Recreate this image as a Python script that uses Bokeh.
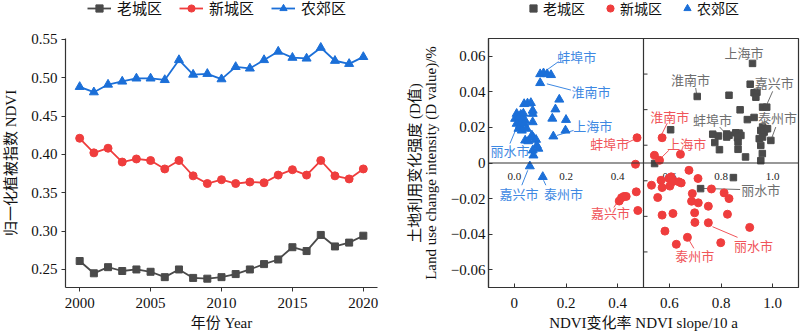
from bokeh.plotting import figure
from bokeh.layouts import row, column
from bokeh.models import (Range1d, Legend, LegendItem, Title, FixedTicker, Span,
                          CustomJSTickFormatter)
from bokeh.embed import file_html
from bokeh.resources import INLINE
from bokeh.core.properties import value

# ---------------- data: left panel ----------------
years = list(range(2000, 2021))
ndvi_old = [0.261, 0.245, 0.253, 0.248, 0.250, 0.247, 0.240, 0.250, 0.239, 0.238, 0.240,
            0.244, 0.250, 0.257, 0.263, 0.279, 0.274, 0.295, 0.280, 0.285, 0.294]
ndvi_new = [0.421, 0.402, 0.408, 0.390, 0.394, 0.392, 0.381, 0.392, 0.372, 0.362, 0.367,
            0.362, 0.364, 0.363, 0.373, 0.380, 0.373, 0.392, 0.372, 0.368, 0.381]
ndvi_sub = [0.488, 0.481, 0.491, 0.495, 0.499, 0.499, 0.497, 0.523, 0.504, 0.505, 0.498,
            0.514, 0.512, 0.523, 0.534, 0.526, 0.525, 0.539, 0.522, 0.518, 0.527]
series_names = ["老城区", "新城区", "农郊区"]
left_yticks = [0.25, 0.30, 0.35, 0.40, 0.45, 0.50, 0.55]
left_xticks = [2000, 2005, 2010, 2015, 2020]

# ---------------- data: right panel ----------------
old_x = [0.922, 0.913, 0.928, 0.939, 0.935, 0.708, 0.831, 0.961, 0.977, 0.874, 0.902, 0.928,
         0.961, 0.974, 0.954, 0.967, 0.980, 0.993, 0.948, 0.961, 0.954, 0.768, 0.790, 0.822,
         0.831, 0.857, 0.870, 0.877, 0.822, 0.864, 0.776, 0.794, 0.866, 0.866, 0.895, 0.960,
         0.954, 0.605, 0.543, 0.848, 0.721]
old_y = [0.0560, 0.0443, 0.0395, 0.0398, 0.0370, 0.0374, 0.0381, 0.0314, 0.0314, 0.0299, 0.0244, 0.0256,
         0.0202, 0.0193, 0.0183, 0.0174, 0.0193, 0.0127, 0.0137, 0.0146, 0.0099, 0.0162, 0.0152, 0.0163,
         0.0156, 0.0170, 0.0168, 0.0155, 0.0146, 0.0142, 0.0115, 0.0075, 0.0118, 0.0077, 0.0034, 0.0053,
         0.0013, 0.0187, -0.0003, -0.0082, -0.0144]

new_x = [0.475, 0.469, 0.472, 0.478, 0.406, 0.415, 0.424, 0.433, 0.572, 0.5425, 0.562, 0.643,
         0.676, 0.531, 0.568, 0.572, 0.598, 0.607, 0.611, 0.602, 0.617, 0.637, 0.646, 0.711,
         0.763, 0.689, 0.812, 0.831, 0.555, 0.686, 0.712, 0.751, 0.572, 0.614, 0.698, 0.825,
         0.699, 0.751, 0.911, 0.583, 0.670, 0.627, 0.799]
new_y = [0.0142, -0.0007, -0.0162, -0.0267, -0.0214, -0.0195, -0.0188, -0.0188, 0.0142, 0.0043, 0.0015, 0.0049,
         -0.0041, -0.0125, -0.0097, -0.0138, -0.0087, -0.0078, -0.0106, -0.0130, -0.0101, -0.0106, -0.0112, -0.0087,
         -0.0146, -0.0172, -0.0168, -0.0200, -0.0194, -0.0215, -0.0224, -0.0243, -0.0293, -0.0284, -0.0280, -0.0288,
         -0.0334, -0.0336, -0.0362, -0.0383, -0.0418, -0.0457, -0.0448]

sub_x = [0.100, 0.113, 0.127, 0.142, 0.100, 0.174, 0.159, 0.147, 0.200, 0.198, 0.151, 0.038,
         0.051, 0.064, 0.071, 0.071, 0.009, 0.025, 0.035, 0.003, 0.016, 0.029, 0.042, 0.071,
         0.009, 0.022, 0.038, 0.016, 0.029, 0.048, 0.042, 0.054, 0.068, 0.074, 0.084, 0.087,
         0.093, 0.071, 0.074, 0.060, 0.110]
sub_y = [0.0500, 0.0505, 0.0500, 0.0495, 0.0450, 0.0357, 0.0302, 0.0250, 0.0243, 0.0183, 0.0150, 0.0332,
         0.0335, 0.0338, 0.0295, 0.0277, 0.0277, 0.0272, 0.0278, 0.0249, 0.0254, 0.0243, 0.0238, 0.0230,
         0.0221, 0.0211, 0.0221, 0.0193, 0.0183, 0.0193, 0.0127, 0.0123, 0.0155, 0.0142, 0.0131, 0.0099,
         0.0081, 0.0071, 0.0043, -0.0018, -0.0078]

right_xticks = [0.0, 0.2, 0.4, 0.6, 0.8, 1.0]
right_yticks = [-0.06, -0.04, -0.02, 0.0, 0.02, 0.04, 0.06]
inner_xticks = [0.0, 0.2, 0.4, 0.6, 0.8, 1.0]
inner_xlabels = ["0.0", "0.2", "0.4", "0.6", "0.8", "1.0"]
inner_yticks = [-0.05, -0.03, -0.01, 0.01, 0.03, 0.05]

# city annotations: label text, label position, leader line ends
sub_ann_text = ["蚌埠市", "淮南市", "上海市", "丽水市", "嘉兴市", "泰州市"]
sub_ann_x = [0.242, 0.297, 0.304, -0.017, 0.018, 0.190]
sub_ann_y = [0.0594, 0.0398, 0.0206, 0.0062, -0.0175, -0.0175]
sub_lx0 = [0.171, 0.219, 0.229, -0.017, 0.029, 0.122]
sub_ly0 = [0.0570, 0.0410, 0.0183, 0.0109, -0.0125, -0.0125]
sub_lx1 = [0.123, 0.126, 0.165, 0.007, 0.052, 0.113]
sub_ly1 = [0.0520, 0.0445, 0.0155, 0.0193, -0.0041, -0.0097]

new_ann_text = ["蚌埠市", "淮南市", "上海市", "嘉兴市", "泰州市", "丽水市"]
new_ann_x = [0.369, 0.602, 0.667, 0.372, 0.698, 0.926]
new_ann_y = [0.0105, 0.0258, 0.0105, -0.0284, -0.0523, -0.0467]
new_lx0 = [0.430, 0.592, 0.598, 0.385, 0.695, 0.864]
new_ly0 = [0.0109, 0.0224, 0.0071, -0.0250, -0.0480, -0.0418]
new_lx1 = [0.462, 0.572, 0.572, 0.400, 0.676, 0.767]
new_ly1 = [0.0131, 0.0165, 0.0034, -0.0218, -0.0433, -0.0358]

old_ann_text = ["上海市", "淮南市", "嘉兴市", "泰州市", "蚌埠市", "丽水市"]
old_ann_x = [0.889, 0.682, 1.006, 1.019, 0.767, 0.954]
old_ann_y = [0.0613, 0.0463, 0.0445, 0.0249, 0.0239, -0.0157]
old_lx0 = [0.889, 0.702, 1.000, 1.012, 0.795, 0.874]
old_ly0 = [0.0613, 0.0422, 0.0403, 0.0202, 0.0202, -0.0149]
old_lx1 = [0.889, 0.706, 0.974, 0.993, 0.809, 0.728]
old_ly1 = [0.0613, 0.0383, 0.0318, 0.0127, 0.0180, -0.0143]

# ---------------- styles ----------------
FONT = "'Liberation Serif', 'Times New Roman', 'Noto Sans CJK SC', serif"
GRAY = "#4a4a4a"
RED = "#ef3d3d"
BLUE = "#1b6fd8"
GRAY_T = "#6e6e6e"
RED_T = "#f0555a"
BLUE_T = "#3d88e2"
AX = "#333333"
LEG_H = 18


def style_axes(p, tick_in, tick_out):
    for ax in (p.xaxis[0], p.yaxis[0]):
        ax.axis_line_color = AX
        ax.axis_line_width = 1.2
        ax.major_tick_line_color = AX
        ax.major_tick_in = tick_in
        ax.major_tick_out = tick_out
        ax.minor_tick_line_color = None
        ax.major_label_text_font = FONT
        ax.major_label_text_font_size = "15px"
        ax.major_label_text_color = "#111111"
        ax.axis_label_text_font = FONT
        ax.axis_label_text_font_size = "15px"
        ax.axis_label_text_font_style = "normal"
        ax.axis_label_text_color = "#111111"
    p.grid.visible = False


def legend_strip():
    # a thin strip above each panel that only carries the legend; its view range
    # lies away from the data so the swatch renderers draw nothing in it
    f = figure(width=400, height=LEG_H, output_backend="svg", toolbar_location=None,
               x_range=Range1d(-3, -2), y_range=Range1d(-3, -2), min_border=0,
               title_location=None)
    f.xaxis.visible = False
    f.yaxis.visible = False
    f.grid.visible = False
    f.outline_line_color = None
    return f


# ---------------- left panel ----------------
p1 = figure(width=400, height=333 - LEG_H, output_backend="svg", toolbar_location=None,
            x_range=Range1d(1999, 2021), y_range=Range1d(0.2265, 0.551),
            min_border_left=65, min_border_right=23, min_border_top=38 - LEG_H,
            min_border_bottom=46, title_location=None)
p1.outline_line_color = None
style_axes(p1, 0, 4)
p1.xaxis.ticker = FixedTicker(ticks=left_xticks)
p1.yaxis.ticker = FixedTicker(ticks=left_yticks)
p1.yaxis.formatter = CustomJSTickFormatter(code="return tick.toFixed(2);")
p1.xaxis.axis_label = "年份 Year"
p1.yaxis.axis_label = "归一化植被指数 NDVI"
p1.xaxis.major_label_standoff = 6
p1.yaxis.major_label_standoff = 4
p1.xaxis.axis_label_standoff = 4
p1.yaxis.axis_label_standoff = 9

l1 = legend_strip()
items = []
for vals, col, mk, sz, name in [(ndvi_old, GRAY, "square", 7, series_names[0]),
                                (ndvi_new, RED, "circle", 8, series_names[1]),
                                (ndvi_sub, BLUE, "triangle", 9, series_names[2])]:
    p1.line(years, vals, line_color=col, line_width=1.8)
    p1.scatter(years, vals, marker=mk, size=sz, fill_color=col, line_color=col)
    kl = l1.line(years, vals, line_color=col, line_width=1.8)
    ks = l1.scatter(years, vals, marker=mk, size=sz, fill_color=col, line_color=col)
    items.append(LegendItem(label=name, renderers=[kl, ks]))

l1.add_layout(Legend(items=items, orientation="horizontal", location=(87, 0),
                     glyph_width=24, glyph_height=LEG_H, label_height=LEG_H, label_standoff=6,
                     spacing=17, padding=0, margin=0, border_line_color=None,
                     background_fill_alpha=0, label_text_font=FONT,
                     label_text_font_size="15px", label_text_color="#111111"))

# ---------------- right panel ----------------
p2 = figure(width=400, height=333 - LEG_H, output_backend="svg", toolbar_location=None,
            x_range=Range1d(-0.1, 1.1), y_range=Range1d(-0.07, 0.07),
            min_border_left=88, min_border_right=2, min_border_top=38 - LEG_H,
            min_border_bottom=46, title_location=None)
p2.outline_line_color = AX
p2.outline_line_width = 1.2
style_axes(p2, 4, 0)
p2.xaxis.ticker = FixedTicker(ticks=right_xticks)
p2.yaxis.ticker = FixedTicker(ticks=right_yticks)
p2.xaxis.formatter = CustomJSTickFormatter(
    code="return Math.abs(tick) < 1e-9 ? '0' : tick.toFixed(1);")
p2.yaxis.formatter = CustomJSTickFormatter(
    code="if (Math.abs(tick) < 1e-9) return '0'; const s = Math.abs(tick).toFixed(2); return tick < 0 ? '\u2212' + s : s;")
p2.xaxis.axis_label = "NDVI变化率 NDVI slope/10 a"
p2.yaxis.axis_label = "Land use change intensity (D value)/%"
p2.xaxis.major_label_standoff = 10
p2.yaxis.major_label_standoff = 3
p2.xaxis.axis_label_standoff = 4
p2.yaxis.axis_label_standoff = 9
p2.add_layout(Title(text="土地利用变化强度 (D值)", align="center", text_font=FONT,
                    text_font_size="15px", text_font_style="normal", text_color="#111111",
                    standoff=-6), "left")

p2.add_layout(Span(location=0, dimension="width", line_color=AX, line_width=1.2))
p2.add_layout(Span(location=0.5, dimension="height", line_color=AX, line_width=1.2))

# inner axis labels and ticks
p2.text(x=inner_xticks, y=[0] * len(inner_xticks), text=inner_xlabels, y_offset=13,
        text_align="center", text_baseline="middle", text_font=value(FONT),
        text_font_size="11px", text_color="#222222")
p2.ray(x=[0.5] * len(inner_yticks), y=inner_yticks, length=4, length_units="screen",
       angle=0, line_color=AX, line_width=1)

# leader lines
for x0, y0, x1, y1, col in [(sub_lx0, sub_ly0, sub_lx1, sub_ly1, BLUE_T),
                            (new_lx0, new_ly0, new_lx1, new_ly1, RED_T),
                            (old_lx0, old_ly0, old_lx1, old_ly1, GRAY_T)]:
    p2.segment(x0=x0, y0=y0, x1=x1, y1=y1, line_color=col, line_width=1)

marker_specs = [(old_x, old_y, "square", 6.5, GRAY),
                (new_x, new_y, "circle", 8, RED),
                (sub_x, sub_y, "triangle", 9, BLUE)]
l2 = legend_strip()
items2 = []
for (xs, ys, mk, sz, col), name in zip(marker_specs, series_names):
    p2.scatter(xs, ys, marker=mk, size=sz, fill_color=col, line_color=col)
    ks = l2.scatter(xs, ys, marker=mk, size=sz, fill_color=col, line_color=col)
    items2.append(LegendItem(label=name, renderers=[ks]))

for tx, xs, ys, col in [(sub_ann_text, sub_ann_x, sub_ann_y, BLUE_T),
                        (new_ann_text, new_ann_x, new_ann_y, RED_T),
                        (old_ann_text, old_ann_x, old_ann_y, GRAY_T)]:
    p2.text(x=xs, y=ys, text=tx, text_align="center", text_baseline="middle",
            text_font=value(FONT), text_font_size="13px", text_color=col)

l2.add_layout(Legend(items=items2, orientation="horizontal", location=(124, 0),
                     glyph_width=18, glyph_height=LEG_H, label_height=LEG_H, label_standoff=1,
                     spacing=16, padding=0, margin=0, border_line_color=None,
                     background_fill_alpha=0, label_text_font=FONT,
                     label_text_font_size="14px", label_text_color="#111111"))

layout = column(row(l1, l2), row(p1, p2))
open("out.html", "w").write(file_html(layout, INLINE))
